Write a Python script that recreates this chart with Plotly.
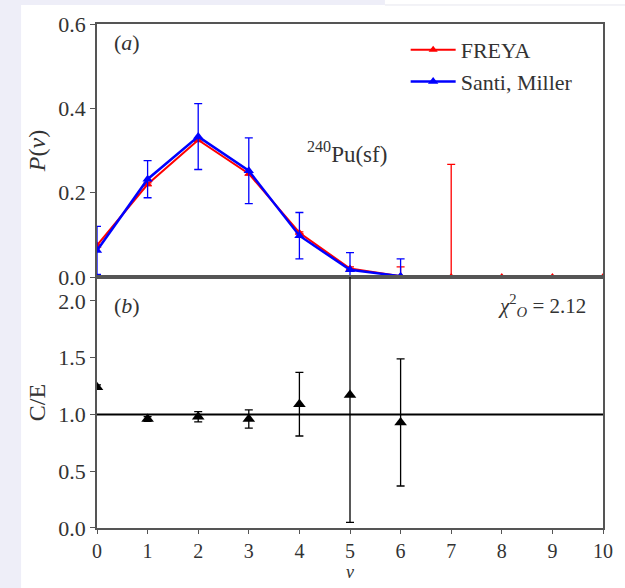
import plotly.graph_objects as go

nu = [0, 1, 2, 3, 4, 5, 6, 7, 8, 9, 10]
freya_p = [0.075, 0.220, 0.325, 0.245, 0.105, 0.020, 0.002, 0.0003, 0.0, 0.0, 0.0]
freya_err = [0.002, 0.003, 0.004, 0.003, 0.002, 0.004, 0.022, 0.267, 0.0005, 0.0, 0.0]

nu_exp = [0, 1, 2, 3, 4, 5, 6]
santi_p = [0.063, 0.232, 0.333, 0.252, 0.098, 0.017, 0.002]
santi_err = [0.057, 0.044, 0.078, 0.078, 0.055, 0.041, 0.041]

ce = [1.24, 0.96, 0.98, 0.96, 1.09, 1.17, 0.93]
ce_err = [0.02, 0.02, 0.045, 0.08, 0.28, 1.12, 0.56]

FONT = "Liberation Serif"
AX = "#555555"
TXT = "#333333"
TICKF = dict(family=FONT, size=22, color=TXT)
XTICKF = dict(family=FONT, size=20, color=TXT)

fig = go.Figure()

fig.add_trace(go.Scatter(
    x=nu, y=freya_p, mode="lines+markers", name="FREYA",
    line=dict(color="#ff0000", width=2),
    marker=dict(symbol="triangle-up", size=8, color="#ff0000"),
    error_y=dict(type="data", array=freya_err, color="#ff0000", thickness=1.3, width=4),
    xaxis="x", yaxis="y"))
fig.add_trace(go.Scatter(
    x=nu_exp, y=santi_p, mode="lines+markers", name="Santi, Miller",
    line=dict(color="#0000ff", width=2.5),
    marker=dict(symbol="triangle-up", size=9, color="#0000ff"),
    error_y=dict(type="data", array=santi_err, color="#0000ff", thickness=1.3, width=4),
    xaxis="x", yaxis="y"))

fig.add_trace(go.Scatter(
    x=[0, 10], y=[1, 1], mode="lines", showlegend=False,
    line=dict(color="black", width=2), xaxis="x2", yaxis="y2"))
fig.add_trace(go.Scatter(
    x=nu_exp, y=ce, mode="markers", showlegend=False,
    marker=dict(symbol="triangle-up", size=11, color="black"),
    error_y=dict(type="data", array=ce_err, color="black", thickness=1.3, width=4),
    xaxis="x2", yaxis="y2"))

def axstyle(tf=TICKF):
    return dict(showline=True, linecolor=AX, linewidth=1.5, mirror=True,
                showgrid=False, zeroline=False, tickfont=tf, automargin=False)

fig.update_layout(
    width=625, height=588,
    margin=dict(l=97, r=22, t=24, b=60),
    paper_bgcolor="white", plot_bgcolor="white",
    font=dict(family=FONT, size=22, color=TXT),
    xaxis=dict(domain=[0, 1], range=[0, 10], anchor="y", showticklabels=False,
               ticks="", **axstyle()),
    yaxis=dict(domain=[0.498, 1], range=[0, 0.6], anchor="x",
               tickvals=[0, 0.2, 0.4, 0.6], ticktext=["0.0", "0.2", "0.4", "0.6"],
               ticks="outside", ticklen=5, tickcolor=AX,
               title=dict(text="<i>P</i>(<i>ν</i>)", font=dict(family=FONT, size=24, color=TXT), standoff=6),
               **axstyle()),
    xaxis2=dict(domain=[0, 1], range=[0, 10], anchor="y2",
                tickvals=nu, ticks="outside", ticklen=4, tickcolor=AX,
                **axstyle(XTICKF)),
    yaxis2=dict(domain=[0, 0.498], range=[0, 2.21], anchor="x2",
                tickvals=[0, 0.5, 1, 1.5, 2], ticktext=["0.0", "0.5", "1.0", "1.5", "2.0"],
                ticks="outside", ticklen=5, tickcolor=AX,
                title=dict(text="C/E", font=dict(family=FONT, size=24, color=TXT), standoff=6),
                **axstyle()),
    legend=dict(x=0.61, y=0.99, xanchor="left", yanchor="top",
                bgcolor="rgba(0,0,0,0)", font=dict(family=FONT, size=22, color=TXT),
                itemwidth=45, tracegroupgap=0),
    showlegend=True,
)

fig.add_annotation(text="<i>ν</i>", xref="paper", yref="paper", x=0.5, y=-0.0873,
                   yanchor="middle", showarrow=False, borderpad=0,
                   font=dict(family=FONT, size=18, color=TXT))
fig.add_annotation(text="(<i>a</i>)", xref="x", yref="y", x=0.6, y=0.555,
                   showarrow=False, font=dict(family=FONT, size=22, color=TXT))
fig.add_annotation(text="(<i>b</i>)", xref="x2", yref="y2", x=0.6, y=1.96,
                   showarrow=False, font=dict(family=FONT, size=22, color=TXT))
fig.add_annotation(text="<sup>240</sup>Pu(sf)", xref="x", yref="y", x=4.95, y=0.295,
                   showarrow=False, font=dict(family=FONT, size=23, color=TXT))
fig.add_annotation(text="<i>χ</i><sup>2</sup><sub><i>O</i></sub> = 2.12", xref="x2", yref="y2",
                   x=9.7, y=1.96, xanchor="right",
                   showarrow=False, font=dict(family=FONT, size=21, color=TXT))

# page background decoration
LAV = "#eeeef8"
fig.add_shape(type="rect", xref="paper", yref="paper", x0=-0.2, x1=-0.150,
              y0=-0.13, y1=1.06, fillcolor=LAV, line=dict(width=0), layer="below")
fig.add_shape(type="rect", xref="paper", yref="paper", x0=-0.2, x1=0.569,
              y0=1.0377, y1=1.06, fillcolor=LAV, line=dict(width=0), layer="below")
fig.add_shape(type="line", xref="paper", yref="paper", x0=0.569, x1=1.05,
              y0=1.0377, y1=1.0377, line=dict(color="#e6e6ee", width=1), layer="below")

fig.write_html("out.html")
